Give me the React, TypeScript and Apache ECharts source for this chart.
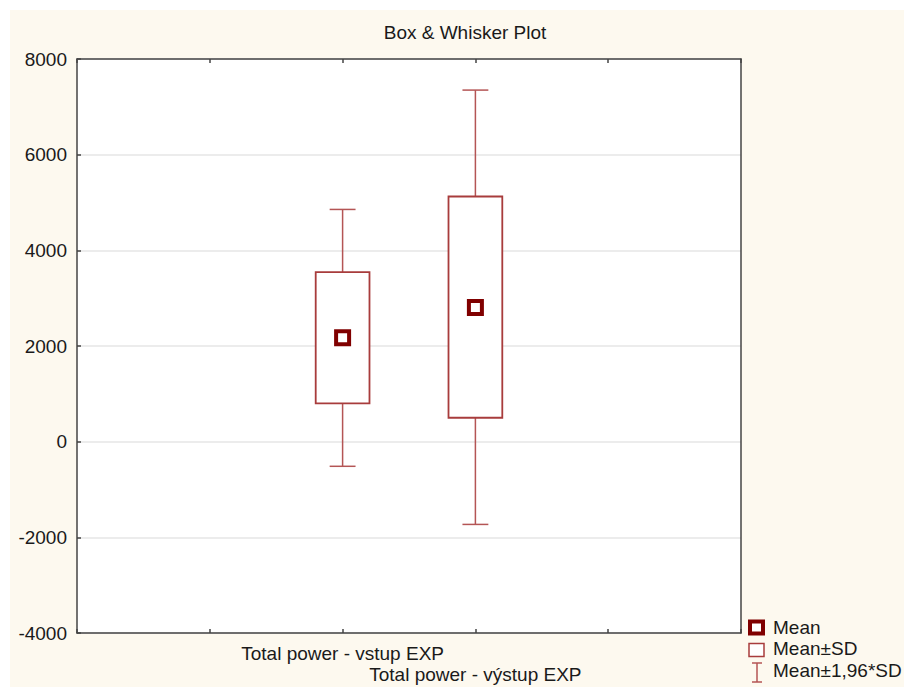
import React, { useEffect, useRef } from "react";
import * as echarts from "echarts";

// ---- data ----
const categories = ["Total power - vstup EXP", "Total power - výstup EXP"];
const xPositions = [2, 3];
const means = [2170, 2805];
const sdLow = [800, 500];
const sdHigh = [3545, 5125];
const ciLow = [-515, -1730];
const ciHigh = [4855, 7350];
const legendLabels = ["Mean", "Mean±SD", "Mean±1,96*SD"];
const title = "Box & Whisker Plot";

const FONT = "'Liberation Sans', Arial, sans-serif";
const FS = 19;
const BOX_COLOR = "#a83c3c";
const WHISKER_COLOR = "#b45555";
const MEAN_COLOR = "#800000";

export default function App() {
  const ref = useRef<HTMLDivElement>(null);

  useEffect(() => {
    if (!ref.current) return;
    const chart = echarts.init(ref.current, undefined, { renderer: "svg" });

    const data = xPositions.map((x, i) => [x, ciLow[i], sdLow[i], means[i], sdHigh[i], ciHigh[i]]);

    const renderItem = (params: any, api: any) => {
      const x = api.value(0);
      const pLo = api.coord([x, api.value(1)]);
      const pBoxLo = api.coord([x, api.value(2)]);
      const pMean = api.coord([x, api.value(3)]);
      const pBoxHi = api.coord([x, api.value(4)]);
      const pHi = api.coord([x, api.value(5)]);
      const unit = api.size([1, 0])[0];
      const boxW = unit * 0.405;
      const capW = unit * 0.195;
      const cx = pMean[0];
      const lineStyle = { stroke: WHISKER_COLOR, lineWidth: 1.5 };
      return {
        type: "group",
        children: [
          { type: "line", shape: { x1: cx, y1: pBoxHi[1], x2: cx, y2: pHi[1] }, style: lineStyle },
          { type: "line", shape: { x1: cx - capW / 2, y1: pHi[1], x2: cx + capW / 2, y2: pHi[1] }, style: lineStyle },
          { type: "line", shape: { x1: cx, y1: pBoxLo[1], x2: cx, y2: pLo[1] }, style: lineStyle },
          { type: "line", shape: { x1: cx - capW / 2, y1: pLo[1], x2: cx + capW / 2, y2: pLo[1] }, style: lineStyle },
          {
            type: "rect",
            shape: { x: cx - boxW / 2, y: pBoxHi[1], width: boxW, height: pBoxLo[1] - pBoxHi[1] },
            style: { fill: "#ffffff", stroke: BOX_COLOR, lineWidth: 1.8 },
          },
          {
            type: "rect",
            shape: { x: cx - 6.5, y: pMean[1] - 6.5, width: 13, height: 13 },
            style: { fill: "#ffffff", stroke: MEAN_COLOR, lineWidth: 4 },
          },
        ],
      };
    };

    const axisLine = { show: true, onZero: false, lineStyle: { color: "#444", width: 1.5 } };
    const tick = { show: true, inside: true, length: 4, lineStyle: { color: "#444", width: 1.5 } };
    const labelStyle = { color: "#1a1a1a", fontSize: FS, fontFamily: FONT };

    chart.setOption({
      animation: false,
      backgroundColor: "#fdf9ef",
      title: {
        text: title,
        left: 455,
        top: 13,
        padding: 0,
        textAlign: "center",
        textStyle: { ...labelStyle, fontWeight: "normal" },
      },
      grid: {
        left: 67,
        top: 49,
        right: 163,
        bottom: 54,
        show: true,
        backgroundColor: "#ffffff",
        borderWidth: 0,
      },
      xAxis: [
        {
          type: "value",
          min: 0,
          max: 5,
          interval: 1,
          position: "bottom",
          axisLine,
          axisTick: tick,
          splitLine: { show: false },
          axisLabel: {
            ...labelStyle,
            margin: 10,
            lineHeight: 21,
            formatter: (v: number) => {
              const idx = xPositions.indexOf(v);
              if (idx < 0) return "";
              return idx % 2 === 1 ? "\n" + categories[idx] : categories[idx];
            },
          },
        },
        {
          type: "value",
          min: 0,
          max: 5,
          interval: 1,
          position: "top",
          axisLine,
          axisTick: tick,
          splitLine: { show: false },
          axisLabel: { show: false },
        },
      ],
      yAxis: [
        {
          type: "value",
          min: -4000,
          max: 8000,
          interval: 2000,
          position: "left",
          axisLine,
          axisTick: tick,
          splitLine: { show: true, lineStyle: { color: "#e6e6e6", width: 1.5 } },
          axisLabel: { ...labelStyle, margin: 10, formatter: (v: number) => String(v) },
        },
        {
          type: "value",
          min: -4000,
          max: 8000,
          interval: 2000,
          position: "right",
          axisLine,
          axisTick: { show: false },
          splitLine: { show: false },
          axisLabel: { show: false },
        },
      ],
      series: [
        {
          type: "custom",
          xAxisIndex: 0,
          yAxisIndex: 0,
          renderItem,
          data,
          z: 5,
        },
      ],
      graphic: [
        {
          type: "rect",
          shape: { x: 740, y: 611.5, width: 13, height: 12 },
          style: { fill: "#ffffff", stroke: MEAN_COLOR, lineWidth: 4 },
        },
        {
          type: "rect",
          shape: { x: 739, y: 633.5, width: 15, height: 13 },
          style: { fill: "#ffffff", stroke: BOX_COLOR, lineWidth: 1.5 },
        },
        {
          type: "line",
          shape: { x1: 747, y1: 653, x2: 747, y2: 672 },
          style: { stroke: WHISKER_COLOR, lineWidth: 1.5 },
        },
        {
          type: "line",
          shape: { x1: 742, y1: 653, x2: 752, y2: 653 },
          style: { stroke: WHISKER_COLOR, lineWidth: 1.5 },
        },
        {
          type: "line",
          shape: { x1: 742, y1: 672, x2: 752, y2: 672 },
          style: { stroke: WHISKER_COLOR, lineWidth: 1.5 },
        },
        ...legendLabels.map((t, i) => ({
          type: "text",
          x: 763,
          y: [617, 638, 660][i],
          style: {
            text: t,
            fill: "#1a1a1a",
            fontSize: FS,
            fontFamily: FONT,
            textAlign: "left",
            textVerticalAlign: "middle",
          },
        })),
      ],
    });

    return () => chart.dispose();
  }, []);

  return (
    <div style={{ position: "absolute", left: 0, top: 0, width: 904, height: 687, background: "#ffffff" }}>
      <div ref={ref} style={{ position: "absolute", left: 10, top: 10, width: 894, height: 677 }} />
    </div>
  );
}
